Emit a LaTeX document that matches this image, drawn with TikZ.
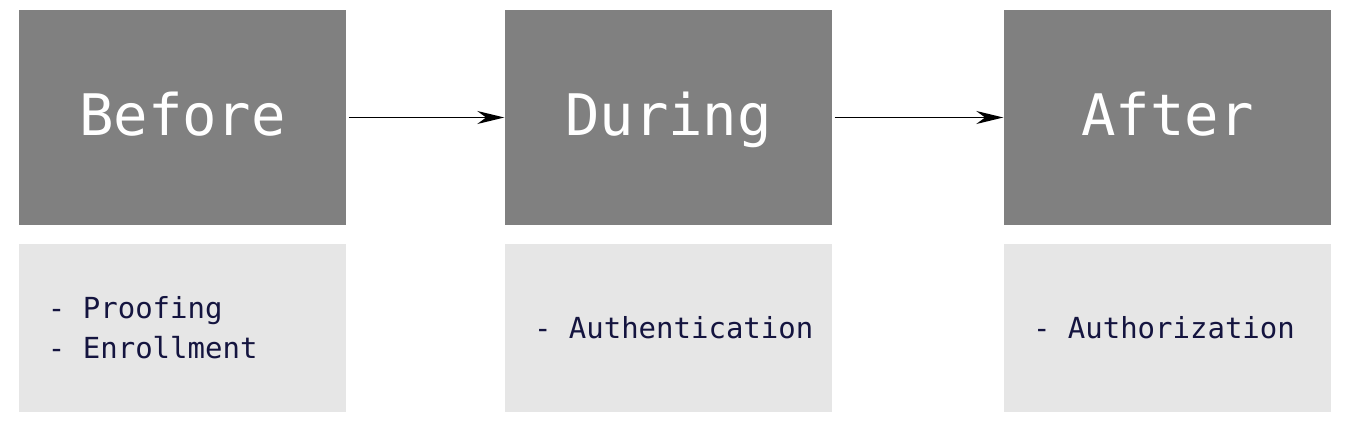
\documentclass[tikz,border=0pt]{standalone}
\usepackage{fontspec}
\setmonofont{DejaVu Sans Mono}
\usetikzlibrary{arrows.meta, positioning}
\definecolor{phase}{HTML}{808080}
\definecolor{notes}{HTML}{E6E6E6}
\definecolor{ink}  {HTML}{14143F}

\begin{document}
\begin{tikzpicture}[font=\ttfamily]
      \useasboundingbox (0,0) rectangle (13.5,-4.3);
      \node[fill=phase, text=white, minimum width=3.27cm, minimum height=2.15cm, text height=0.45cm, text depth=0.1cm, font=\ttfamily\fontsize{16.3}{20}\selectfont] (before) at (1.825,-1.175) {Before};
      \node[fill=phase, text=white, minimum width=3.27cm, minimum height=2.15cm, text height=0.45cm, text depth=0.1cm, font=\ttfamily\fontsize{16.3}{20}\selectfont] (during) at (6.685,-1.175) {During};
      \node[fill=phase, text=white, minimum width=3.27cm, minimum height=2.15cm, text height=0.45cm, text depth=0.1cm, font=\ttfamily\fontsize{16.3}{20}\selectfont] (after) at (11.675,-1.175) {After};
      \node[fill=notes, minimum width=3.27cm, minimum height=1.68cm] (beforebox) at (1.825,-3.28) {};
      \node[fill=notes, minimum width=3.27cm, minimum height=1.68cm] (duringbox) at (6.685,-3.28) {};
      \node[fill=notes, minimum width=3.27cm, minimum height=1.68cm] (afterbox) at (11.675,-3.28) {};
      \node[anchor=west, inner sep=0pt, align=left, text=ink, font=\ttfamily\fontsize{8.25}{11.4}\selectfont] (beforelist) at ([xshift=0.29cm]beforebox.west) {- Proofing\\- Enrollment};
      \node[anchor=west, inner sep=0pt, align=left, text=ink, font=\ttfamily\fontsize{8.25}{11.4}\selectfont] (duringlist) at ([xshift=0.29cm]duringbox.west) {- Authentication};
      \node[anchor=west, inner sep=0pt, align=left, text=ink, font=\ttfamily\fontsize{8.25}{11.4}\selectfont] (afterlist) at ([xshift=0.29cm]afterbox.west) {- Authorization};
      \draw[-{Stealth[length=2.7mm, width=1.3mm]}, line width=0.5pt] ([xshift=0.02cm]before.east) -- (during.west);
      \draw[-{Stealth[length=2.7mm, width=1.3mm]}, line width=0.5pt] ([xshift=0.02cm]during.east) -- (after.west);
    \end{tikzpicture}
\end{document}
